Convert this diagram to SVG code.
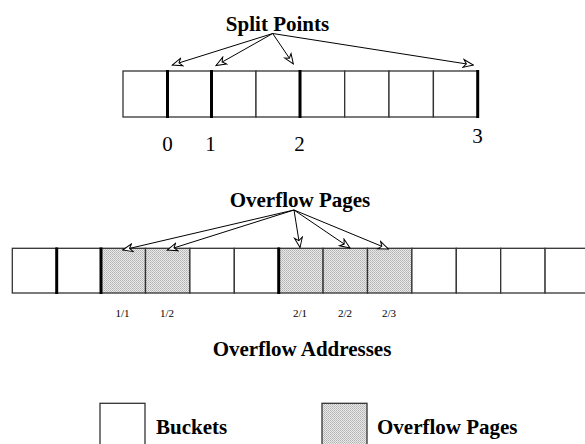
<svg xmlns="http://www.w3.org/2000/svg" width="585" height="444" viewBox="0 0 585 444">
<style>
.cell{fill:#fff;stroke:#333;stroke-width:1.3}
.ov{fill:url(#stip);stroke:#333;stroke-width:1.3}
.bold{stroke:#000;stroke-width:3}
text{font-family:'Liberation Serif','Times New Roman','DejaVu Serif',serif;fill:#000}
.h{font-size:21px;font-weight:bold}
.d{font-size:21px}
.s{font-size:11px}
.c{fill:none;stroke:#000;stroke-width:1}
</style>
<defs>
<pattern id="stip" patternUnits="userSpaceOnUse" width="2" height="2">
<rect width="2" height="2" fill="#e8e8e8"/>
<rect x="0" y="0" width="1" height="1" fill="#b2b2b2"/>
<rect x="1" y="1" width="1" height="1" fill="#c2c2c2"/>
</pattern>
<marker id="ah" viewBox="0 0 12 10" refX="11" refY="5" markerWidth="12" markerHeight="10" markerUnits="userSpaceOnUse" orient="auto">
<path d="M1,1 L11,5 L1,9 L4,5 z" fill="#fff" stroke="#000" stroke-width="1"/>
</marker>
</defs>
<rect width="585" height="444" fill="#fff"/>

<g id="split-row">
<rect class="cell" x="123" y="71" width="44.3" height="46"/>
<rect class="cell" x="167.3" y="71" width="44.4" height="46"/>
<rect class="cell" x="211.7" y="71" width="44.3" height="46"/>
<rect class="cell" x="256" y="71" width="44.4" height="46"/>
<rect class="cell" x="300.4" y="71" width="44.3" height="46"/>
<rect class="cell" x="344.7" y="71" width="44.3" height="46"/>
<rect class="cell" x="389" y="71" width="44.4" height="46"/>
<rect class="cell" x="433.4" y="71" width="44.3" height="46"/>
<line class="bold" x1="167.5" y1="70" x2="167.5" y2="118"/>
<line class="bold" x1="211.5" y1="70" x2="211.5" y2="118"/>
<line class="bold" x1="300" y1="70" x2="300" y2="118"/>
<line class="bold" x1="477.7" y1="70" x2="477.7" y2="118"/>
</g>

<g id="overflow-row">
<rect class="cell" x="12.3" y="248.3" width="44.4" height="44.7"/>
<rect class="cell" x="56.7" y="248.3" width="44.3" height="44.7"/>
<rect class="ov" x="101" y="248.3" width="44.5" height="44.7"/>
<rect class="ov" x="145.5" y="248.3" width="44.4" height="44.7"/>
<rect class="cell" x="189.9" y="248.3" width="44.4" height="44.7"/>
<rect class="cell" x="234.3" y="248.3" width="44.4" height="44.7"/>
<rect class="ov" x="278.7" y="248.3" width="44.4" height="44.7"/>
<rect class="ov" x="323.1" y="248.3" width="44.4" height="44.7"/>
<rect class="ov" x="367.5" y="248.3" width="44.4" height="44.7"/>
<rect class="cell" x="411.9" y="248.3" width="44.4" height="44.7"/>
<rect class="cell" x="456.3" y="248.3" width="44.4" height="44.7"/>
<rect class="cell" x="500.7" y="248.3" width="44.4" height="44.7"/>
<rect class="cell" x="545.1" y="248.3" width="44.4" height="44.7"/>
<line class="bold" x1="56.7" y1="247.5" x2="56.7" y2="294"/>
<line class="bold" x1="101" y1="247.5" x2="101" y2="294"/>
<line class="bold" x1="278.7" y1="247.5" x2="278.7" y2="294"/>
</g>

<g id="split-points-label"><text class="h" x="277.5" y="31" text-anchor="middle" font-family="Liberation Serif, serif">Split Points</text></g>
<g id="split-numbers" font-family="Liberation Serif, serif">
<text class="d" x="167.5" y="151" text-anchor="middle">0</text>
<text class="d" x="210.5" y="151" text-anchor="middle">1</text>
<text class="d" x="299.5" y="151" text-anchor="middle">2</text>
<text class="d" x="477.5" y="143" text-anchor="middle">3</text>
</g>
<g id="overflow-pages-label"><text class="h" x="300" y="207" text-anchor="middle" font-family="Liberation Serif, serif">Overflow Pages</text></g>
<g id="overflow-numbers" font-family="Liberation Serif, serif">
<text class="s" x="122.5" y="317" text-anchor="middle">1/1</text>
<text class="s" x="167" y="317" text-anchor="middle">1/2</text>
<text class="s" x="300" y="317" text-anchor="middle">2/1</text>
<text class="s" x="345" y="317" text-anchor="middle">2/2</text>
<text class="s" x="389" y="317" text-anchor="middle">2/3</text>
</g>
<g id="overflow-addresses-label"><text class="h" x="302" y="356" text-anchor="middle" font-family="Liberation Serif, serif">Overflow Addresses</text></g>

<g id="legend-buckets">
<rect class="cell" x="100" y="403.3" width="45" height="45"/>
<text class="h" x="156" y="434" font-family="Liberation Serif, serif">Buckets</text>
</g>
<g id="legend-overflow">
<rect class="ov" x="322" y="403.3" width="45" height="45"/>
<text class="h" x="377" y="434" font-family="Liberation Serif, serif">Overflow Pages</text>
</g>

<g id="connectors">
<line class="c" x1="272.7" y1="33.5" x2="172.3" y2="65" marker-end="url(#ah)"/>
<line class="c" x1="272.7" y1="33.5" x2="216" y2="65.5" marker-end="url(#ah)"/>
<line class="c" x1="272.7" y1="33.5" x2="293.3" y2="64" marker-end="url(#ah)"/>
<line class="c" x1="272.7" y1="33.5" x2="473.3" y2="65" marker-end="url(#ah)"/>
<line class="c" x1="294" y1="210" x2="122.7" y2="250" marker-end="url(#ah)"/>
<line class="c" x1="294" y1="210" x2="167.3" y2="250" marker-end="url(#ah)"/>
<line class="c" x1="294" y1="210" x2="300" y2="247.5" marker-end="url(#ah)"/>
<line class="c" x1="294" y1="210" x2="350" y2="248" marker-end="url(#ah)"/>
<line class="c" x1="294" y1="210" x2="388.3" y2="249" marker-end="url(#ah)"/>
</g>
</svg>
